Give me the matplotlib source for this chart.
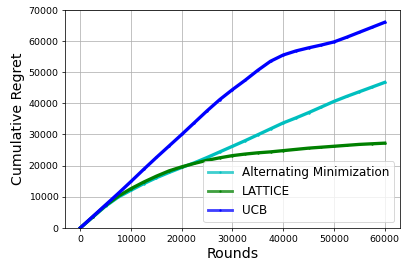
import matplotlib.pyplot as plt

# valeurs, tous les 2500 rounds
rounds = [0, 2500, 5000, 7500, 10000, 12500, 15000, 17500, 20000, 22500,
          25000, 27500, 30000, 32500, 35000, 37500, 40000, 42500, 45000,
          47500, 50000, 52500, 55000, 57500, 60000]

alt_min = [0, 3500, 7000, 9900, 12100, 14200, 16100, 17800, 19400, 20900,
           22600, 24400, 26200, 28000, 29900, 31800, 33700, 35300, 37000,
           38800, 40600, 42200, 43700, 45200, 46700]

lattice = [0, 3600, 7200, 10200, 12600, 14700, 16600, 18300, 19600, 20700,
           21700, 22500, 23200, 23700, 24100, 24400, 24800, 25200, 25600,
           25900, 26200, 26500, 26800, 27000, 27200]

ucb = [0, 3700, 7400, 11100, 14900, 18800, 22600, 26300, 30000, 33800,
       37600, 41200, 44400, 47400, 50600, 53500, 55500, 56800, 57800,
       58700, 59700, 61200, 62800, 64400, 66000]

fig, ax = plt.subplots(figsize=(6, 4), dpi=67.8)

ax.plot(rounds, alt_min, color='c', marker='.', markersize=3, lw=3.5, label='Alternating Minimization')
ax.plot(rounds, lattice, color='g', marker='.', markersize=3, lw=3.5, label='LATTICE')
ax.plot(rounds, ucb, color='b', marker='.', markersize=3, lw=3.5, label='UCB')

ax.set_ylim(0, 70000)
ax.grid(True)
ax.tick_params(labelsize=10)
ax.set_xlabel('Rounds', fontsize=15)
ax.set_ylabel('Cumulative Regret', fontsize=15)
leg = ax.legend(loc='lower right', fontsize=12.7)
for h in leg.get_lines():
    h.set_alpha(0.75)
    h.set_linewidth(3)

plt.subplots_adjust(left=0.16, right=0.983, top=0.963, bottom=0.159)
plt.savefig('out.png', dpi=67.8)
